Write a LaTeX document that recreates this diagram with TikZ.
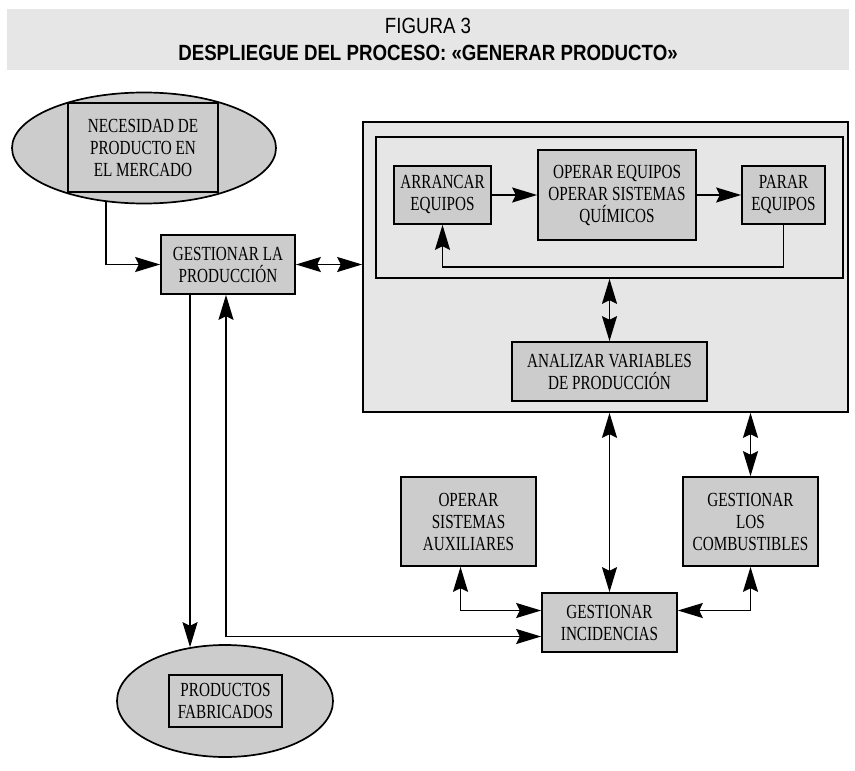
\documentclass[tikz,border=0pt]{standalone}
\usepackage{fontspec}
\setmainfont{Liberation Serif}[FakeStretch=0.76]
\newfontfamily\titlefont{Liberation Sans}[FakeStretch=0.85]
\usetikzlibrary{shapes.geometric,arrows.meta}
\definecolor{boxgray}{HTML}{CCCCCC}
\definecolor{bandgray}{HTML}{E6E6E6}

\begin{document}
\begin{tikzpicture}[x=0.5pt,y=-0.5pt,line width=0.85pt,
  >={Stealth[length=12.5pt,width=7.5pt,inset=1.8pt]},
  box/.style={draw=black,fill=boxgray,align=center,inner sep=0pt,
    font=\fontsize{10}{11}\selectfont},
  frame/.style={draw=black,fill=bandgray,inner sep=0pt},
  blob/.style={draw=black,fill=boxgray,ellipse,inner sep=0pt}]
  \useasboundingbox (0,0) rectangle (855,770);

  \node[fill=bandgray,minimum width=421pt,minimum height=30.5pt,align=center,
    font=\titlefont\fontsize{11}{13.5}\selectfont] (t) at (428,39.5)
    {FIGURA 3\\\textbf{DESPLIEGUE DEL PROCESO: «GENERAR PRODUCTO»}};

  \node[blob,minimum width=132pt,minimum height=55.5pt] (a) at (144,148) {};
  \node[box,minimum width=75pt,minimum height=44.5pt] (n) at (143,147.5) {NECESIDAD DE\\PRODUCTO EN\\EL MERCADO};
  \node[box,minimum width=67pt,minimum height=29.5pt] (b) at (228,264.5) {GESTIONAR LA\\PRODUCCIÓN};
  \node[frame,minimum width=242.5pt,minimum height=145pt] (c) at (605.5,267) {};
  \node[frame,minimum width=233.5pt,minimum height=70.5pt] (d) at (609.5,207.5) {};
  \node[box,minimum width=48.5pt,minimum height=29pt] (e) at (442.5,195) {ARRANCAR\\EQUIPOS};
  \node[box,minimum width=79pt,minimum height=45pt] (f) at (617,195) {OPERAR EQUIPOS\\OPERAR SISTEMAS\\QUÍMICOS};
  \node[box,minimum width=41.5pt,minimum height=29pt] (g) at (783.5,195) {PARAR\\EQUIPOS};
  \node[box,minimum width=97.5pt,minimum height=29.5pt] (h) at (609.5,371.5) {ANALIZAR VARIABLES\\DE PRODUCCIÓN};
  \node[box,minimum width=67.5pt,minimum height=44.5pt] (i) at (468.5,521.5) {OPERAR\\SISTEMAS\\AUXILIARES};
  \node[box,minimum width=67.5pt,minimum height=44.5pt] (j) at (750.5,521.5) {GESTIONAR\\LOS\\COMBUSTIBLES};
  \node[box,minimum width=67.5pt,minimum height=29.5pt] (k) at (609.5,622.5) {GESTIONAR\\INCIDENCIAS};
  \node[blob,minimum width=108pt,minimum height=56pt] (l) at (225,701) {};
  \node[box,minimum width=56.5pt,minimum height=26pt] (m) at (225.5,701) {PRODUCTOS\\FABRICADOS};

  \draw[->] (a.235) |- (b);
  \draw[<->] (b.east) -- (b.east -| c.west);
  \draw[->] (e) -- (f);
  \draw[->] (f) -- (g);
  \draw[->] (g.south) -- ++(0,42) -| (e.south);
  \draw[<->] (d) -- (h);
  \draw[<->] (k.north |- c.south) -- (k);
  \draw[<->] (j.north |- c.south) -- (j);
  \draw[<->] ([xshift=-4pt]i.south) |- ([yshift=6pt]k.west);
  \draw[<->] (j.south) |- ([yshift=6pt]k.east);
  \draw[->] (l.123 |- b.south) -- (l.123);
  \draw[<->] ([xshift=-1pt]b.south) |- ([yshift=-7pt]k.west);
\end{tikzpicture}
\end{document}
